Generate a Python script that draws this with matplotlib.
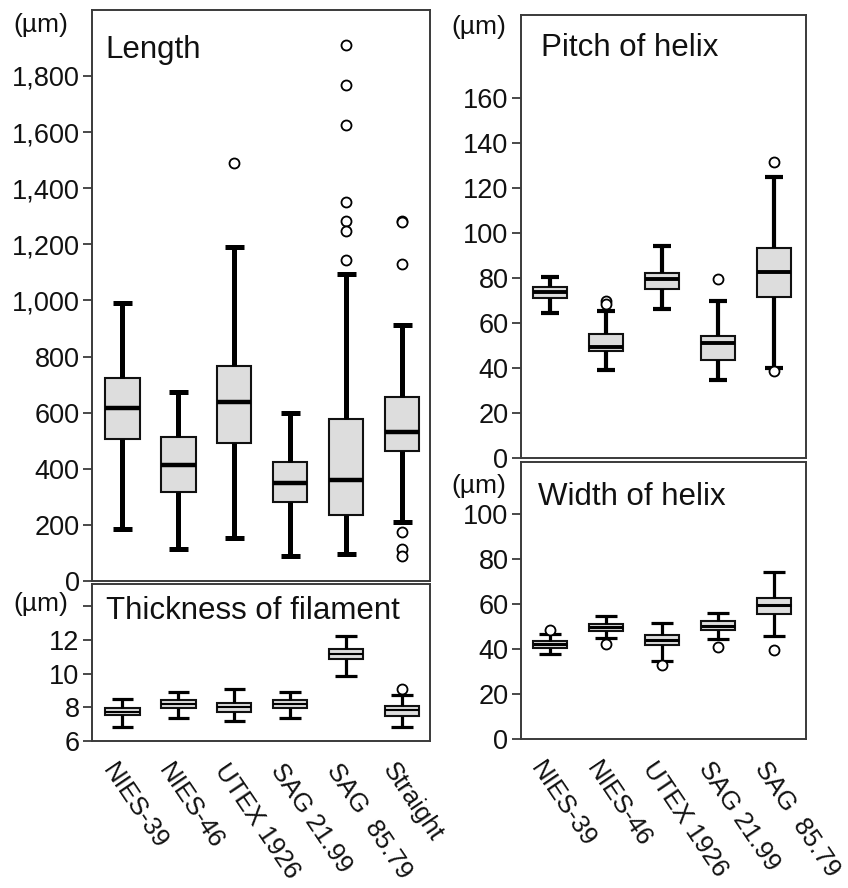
import matplotlib
import matplotlib.pyplot as plt
from matplotlib.ticker import FuncFormatter

matplotlib.use("Agg")

plt.rcParams["font.family"] = ["Liberation Sans", "DejaVu Sans"]

# strains
left_strains = ["NIES-39", "NIES-46", "UTEX 1926", "SAG 21.99", "SAG  85.79", "Straight"]
right_strains = ["NIES-39", "NIES-46", "UTEX 1926", "SAG 21.99", "SAG  85.79"]

# Length (um): whisker low, Q1, median, Q3, whisker high
length_lo = [185, 115, 155, 88, 95, 210]
length_q1 = [505, 318, 493, 283, 235, 465]
length_med = [617, 412, 638, 348, 360, 532]
length_q3 = [722, 512, 768, 423, 578, 655]
length_hi = [990, 675, 1190, 600, 1095, 912]
length_fliers = [[], [], [1490], [], [1910, 1768, 1625, 1352, 1282, 1247, 1145],
                 [1282, 1278, 1128, 175, 115, 88]]

# Thickness of filament (um)
thick_lo = [6.85, 7.35, 7.2, 7.35, 9.88, 6.85]
thick_q1 = [7.55, 7.98, 7.75, 7.95, 10.88, 7.5]
thick_med = [7.74, 8.2, 8.0, 8.2, 11.18, 7.84]
thick_q3 = [7.94, 8.43, 8.27, 8.43, 11.45, 8.1]
thick_hi = [8.49, 8.89, 9.07, 8.89, 12.25, 8.73]
thick_fliers = [[], [], [], [], [], [9.07]]

# Pitch of helix (um)
pitch_lo = [64.6, 39.0, 66.4, 34.8, 40.1]
pitch_q1 = [71.0, 47.5, 75.1, 43.5, 71.7]
pitch_med = [73.8, 49.3, 79.6, 51.1, 82.5]
pitch_q3 = [76.0, 55.1, 82.2, 54.4, 93.5]
pitch_hi = [80.3, 65.2, 94.3, 70.0, 124.9]
pitch_fliers = [[], [69.6, 68.3], [], [79.5], [131.5, 38.7]]

# Width of helix (um)
width_lo = [37.6, 44.8, 34.8, 44.5, 45.7]
width_q1 = [40.6, 48.1, 41.8, 48.4, 55.6]
width_med = [42.1, 49.7, 44.2, 50.4, 59.8]
width_q3 = [43.7, 51.2, 46.3, 52.4, 62.9]
width_hi = [46.9, 54.6, 51.6, 56.1, 74.3]
width_fliers = [[48.5], [42.3], [32.9], [40.9], [39.4]]

FIG_W, FIG_H = 848, 888
TEXT = "#111111"
SPINE = "#3a3a3a"
BOX_FILL = "#dddddd"


def px_rect(x0, y0, x1, y1):
    return [x0 / FIG_W, 1 - y1 / FIG_H, (x1 - x0) / FIG_W, (y1 - y0) / FIG_H]


def draw_boxes(ax, lo, q1, med, q3, hi, fliers, lw, med_lw,
               box_w=0.62, cap_w=0.35):
    stats = []
    for i in range(len(med)):
        stats.append({"whislo": lo[i], "q1": q1[i], "med": med[i], "q3": q3[i],
                      "whishi": hi[i], "fliers": fliers[i]})
    ax.bxp(stats, positions=range(1, len(med) + 1), widths=box_w,
           capwidths=cap_w, patch_artist=True, showfliers=True,
           boxprops=dict(facecolor=BOX_FILL, edgecolor="#111111", linewidth=1.5),
           whiskerprops=dict(color="#000000", linewidth=lw, solid_capstyle="butt"),
           capprops=dict(color="#000000", linewidth=lw, solid_capstyle="butt"),
           medianprops=dict(color="#000000", linewidth=med_lw, solid_capstyle="butt"),
           flierprops=dict(marker="o", markerfacecolor="white",
                           markeredgecolor="#000000", markersize=7.2,
                           markeredgewidth=1.3, linestyle="none"))


def style_axis(ax, xlim, ylim, yticks, ylabels=None):
    ax.set_xlim(*xlim)
    ax.set_ylim(*ylim)
    ax.set_yticks(yticks)
    if ylabels is not None:
        ax.set_yticklabels(ylabels)
    ax.tick_params(axis="y", direction="out", length=6.5, width=1.3,
                   pad=2.5, labelsize=19.5, colors=SPINE, labelcolor=TEXT)
    ax.set_xticks([])
    for sp in ax.spines.values():
        sp.set_color(SPINE)
        sp.set_linewidth(1.4)


fig = plt.figure(figsize=(FIG_W / 100, FIG_H / 100), dpi=100)

ax_len = fig.add_axes(px_rect(92, 10, 430, 581))
ax_thk = fig.add_axes(px_rect(92, 584, 430, 741))
ax_pit = fig.add_axes(px_rect(521, 15, 806, 458))
ax_wid = fig.add_axes(px_rect(521, 462, 806, 739))

draw_boxes(ax_len, length_lo, length_q1, length_med, length_q3, length_hi,
           length_fliers, lw=3.6, med_lw=3.2, box_w=0.62, cap_w=0.34)
style_axis(ax_len, (0.46, 6.5), (0, 2035), range(0, 2000, 200))
ax_len.yaxis.set_major_formatter(FuncFormatter(lambda v, p: f"{int(v):,}"))

draw_boxes(ax_thk, thick_lo, thick_q1, thick_med, thick_q3, thick_hi,
           thick_fliers, lw=2.3, med_lw=1.5, box_w=0.62, cap_w=0.38)
style_axis(ax_thk, (0.46, 6.5), (6, 15.32), [6, 8, 10, 12, 14],
           ["6", "8", "10", "12", ""])

draw_boxes(ax_pit, pitch_lo, pitch_q1, pitch_med, pitch_q3, pitch_hi,
           pitch_fliers, lw=3.0, med_lw=2.8, box_w=0.6, cap_w=0.32)
style_axis(ax_pit, (0.48, 5.57), (0, 196.9), range(0, 180, 20))

draw_boxes(ax_wid, width_lo, width_q1, width_med, width_q3, width_hi,
           width_fliers, lw=2.3, med_lw=2.2, box_w=0.62, cap_w=0.38)
style_axis(ax_wid, (0.48, 5.57), (0, 123.2), range(0, 120, 20))

# panel titles
ax_len.text(0.04, 0.93, "Length", transform=ax_len.transAxes, fontsize=22.5,
            color=TEXT, va="center", ha="left")
ax_thk.text(0.04, 0.83, "Thickness of filament", transform=ax_thk.transAxes,
            fontsize=22.5, color=TEXT, va="center", ha="left")
ax_pit.text(0.07, 0.925, "Pitch of helix", transform=ax_pit.transAxes,
            fontsize=22.5, color=TEXT, va="center", ha="left")
ax_wid.text(0.06, 0.875, "Width of helix", transform=ax_wid.transAxes,
            fontsize=22.5, color=TEXT, va="center", ha="left")

# unit labels
for x_px, y_px in [(41, 25), (41, 604), (479, 27), (479, 486)]:
    fig.text(x_px / FIG_W, 1 - y_px / FIG_H, "(\u00b5m)", fontsize=19,
             color=TEXT, ha="center", va="center")

# rotated strain labels under the bottom panels
for ax, names in [(ax_thk, left_strains), (ax_wid, right_strains)]:
    for i, name in enumerate(names):
        ax.annotate(name, xy=(i + 1, 0), xycoords=("data", "axes fraction"),
                    xytext=(-3, -13), textcoords="offset points",
                    rotation=-56, rotation_mode="anchor", ha="left", va="top",
                    fontsize=18.5, color=TEXT)

fig.savefig("out.png", dpi=100)
